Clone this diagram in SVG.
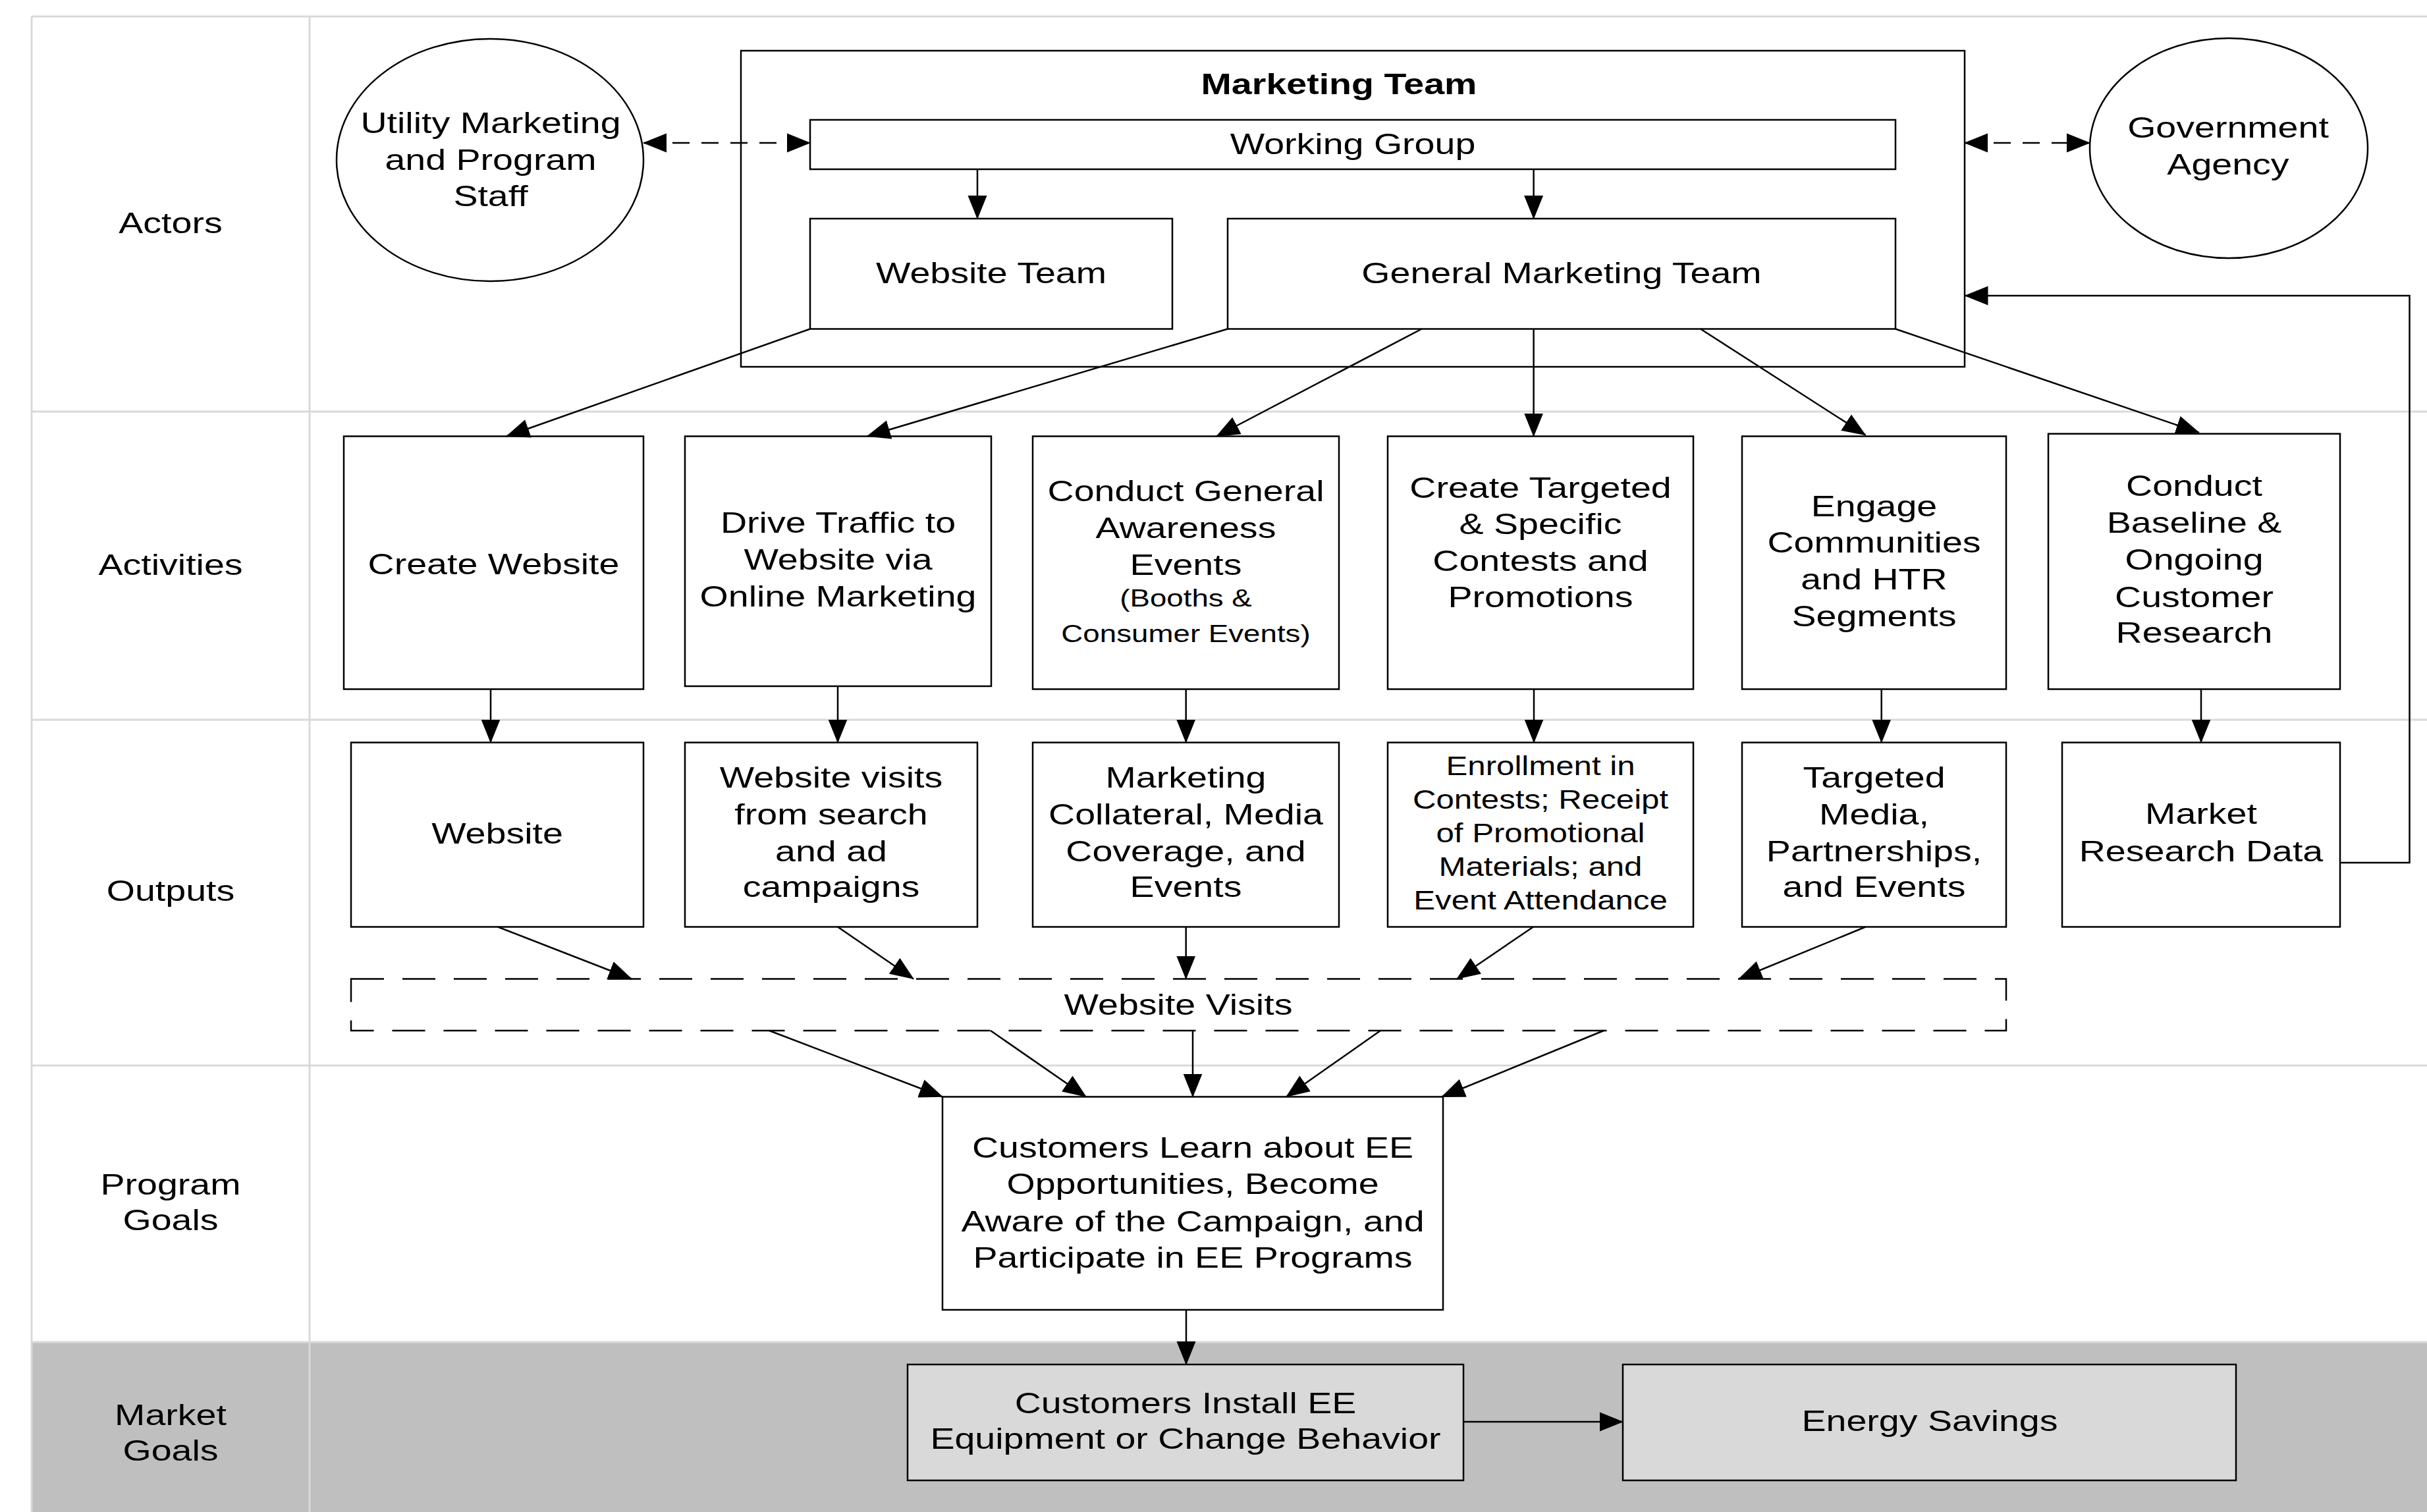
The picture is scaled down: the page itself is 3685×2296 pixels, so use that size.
<svg xmlns="http://www.w3.org/2000/svg" width="3685" height="2296" viewBox="0 0 3685 2296">
<style>
.grid{stroke:#d9d9d9;stroke-width:3;fill:none}
.box{fill:#fff;stroke:#000;stroke-width:2.5}
.gbox{fill:#d9d9d9;stroke:#000;stroke-width:2.5}
.c{stroke:#000;stroke-width:2.5;fill:none;marker-end:url(#ah)}
.dd{stroke:#000;stroke-width:2.5;fill:none;stroke-dasharray:26 18;marker-start:url(#ah);marker-end:url(#ah)}
.dbox{fill:none;stroke:#000;stroke-width:2.5;stroke-dasharray:50 28}
text{font-family:"Liberation Sans",Arial,Helvetica,sans-serif;font-size:45px;fill:#000;text-anchor:middle}
.b{font-weight:bold}
.s{font-size:37px}
.m{font-size:41px}
</style>
<defs>
<marker id="ah" markerUnits="userSpaceOnUse" markerWidth="36" markerHeight="30" refX="35" refY="14.5" orient="auto-start-reverse" viewBox="0 0 36 29">
<path d="M0,0 L36,14.5 L0,29 z" fill="#000"/>
</marker>
</defs>
<rect width="3685" height="2296" fill="#fff"/>
<g id="lanes">
<rect x="48" y="2038" width="3637" height="258" fill="#bfbfbf"/>
<path class="grid" d="M48,25 H3685 M48,625 H3685 M48,1093 H3685 M48,1618 H3685 M48,2038 H3685 M48,25 V2296 M470,25 V2296"/>
<text transform="translate(259 0) scale(1.235 1)"><tspan x="0" y="354">Actors</tspan></text>
<text transform="translate(259 0) scale(1.235 1)"><tspan x="0" y="873">Activities</tspan></text>
<text transform="translate(259 0) scale(1.235 1)"><tspan x="0" y="1368">Outputs</tspan></text>
<text transform="translate(259 0) scale(1.235 1)"><tspan x="0" y="1814">Program</tspan><tspan x="0" y="1868">Goals</tspan></text>
<text transform="translate(259 0) scale(1.235 1)"><tspan x="0" y="2164">Market</tspan><tspan x="0" y="2218">Goals</tspan></text>
</g>
<g id="marketing-team">
<rect class="box" x="1125" y="77" width="1858" height="480"/>
<text class="b" transform="translate(2033 0) scale(1.235 1)"><tspan x="0" y="143">Marketing Team</tspan></text>
</g>
<g id="utility-staff">
<ellipse class="box" cx="744" cy="243" rx="233" ry="184"/>
<text transform="translate(745 0) scale(1.235 1)"><tspan x="0" y="202">Utility Marketing</tspan><tspan x="0" y="258">and Program</tspan><tspan x="0" y="313">Staff</tspan></text>
</g>
<g id="government-agency">
<ellipse class="box" cx="3384" cy="225" rx="211" ry="167"/>
<text transform="translate(3383 0) scale(1.235 1)"><tspan x="0" y="209">Government</tspan><tspan x="0" y="265">Agency</tspan></text>
</g>
<g id="working-group">
<rect class="box" x="1230" y="182" width="1648" height="75"/>
<text transform="translate(2054 0) scale(1.235 1)"><tspan x="0" y="234">Working Group</tspan></text>
</g>
<g id="website-team">
<rect class="box" x="1230" y="332" width="550" height="167.5"/>
<text transform="translate(1505 0) scale(1.235 1)"><tspan x="0" y="430">Website Team</tspan></text>
</g>
<g id="general-marketing-team">
<rect class="box" x="1864" y="332" width="1014" height="167.5"/>
<text transform="translate(2371 0) scale(1.235 1)"><tspan x="0" y="430">General Marketing Team</tspan></text>
</g>
<g id="create-website">
<rect class="box" x="522" y="662.5" width="455" height="384"/>
<text transform="translate(749.5 0) scale(1.235 1)"><tspan x="0" y="872">Create Website</tspan></text>
</g>
<g id="drive-traffic">
<rect class="box" x="1040" y="662.5" width="465" height="379.5"/>
<text transform="translate(1272.5 0) scale(1.235 1)"><tspan x="0" y="809">Drive Traffic to</tspan><tspan x="0" y="865">Website via</tspan><tspan x="0" y="921">Online Marketing</tspan></text>
</g>
<g id="conduct-general">
<rect class="box" x="1568" y="662.5" width="465" height="384"/>
<text transform="translate(1800.5 0) scale(1.235 1)"><tspan x="0" y="761">Conduct General</tspan><tspan x="0" y="817">Awareness</tspan><tspan x="0" y="873">Events</tspan><tspan class="s" x="0" y="921">(Booths &amp;</tspan><tspan class="s" x="0" y="975">Consumer Events)</tspan></text>
</g>
<g id="create-targeted">
<rect class="box" x="2107" y="662.5" width="464" height="384"/>
<text transform="translate(2339 0) scale(1.235 1)"><tspan x="0" y="756">Create Targeted</tspan><tspan x="0" y="811">&amp; Specific</tspan><tspan x="0" y="867">Contests and</tspan><tspan x="0" y="922">Promotions</tspan></text>
</g>
<g id="engage-communities">
<rect class="box" x="2645" y="662.5" width="401" height="384"/>
<text transform="translate(2845.5 0) scale(1.235 1)"><tspan x="0" y="784">Engage</tspan><tspan x="0" y="839">Communities</tspan><tspan x="0" y="895">and HTR</tspan><tspan x="0" y="951">Segments</tspan></text>
</g>
<g id="customer-research">
<rect class="box" x="3110" y="658.7" width="443" height="387.8"/>
<text transform="translate(3331.5 0) scale(1.235 1)"><tspan x="0" y="753">Conduct</tspan><tspan x="0" y="809">Baseline &amp;</tspan><tspan x="0" y="865">Ongoing</tspan><tspan x="0" y="922">Customer</tspan><tspan x="0" y="976">Research</tspan></text>
</g>
<g id="website">
<rect class="box" x="533" y="1127.5" width="444" height="280"/>
<text transform="translate(755 0) scale(1.235 1)"><tspan x="0" y="1281">Website</tspan></text>
</g>
<g id="website-visits-search">
<rect class="box" x="1040" y="1127.5" width="444" height="280"/>
<text transform="translate(1262 0) scale(1.235 1)"><tspan x="0" y="1196">Website visits</tspan><tspan x="0" y="1252">from search</tspan><tspan x="0" y="1308">and ad</tspan><tspan x="0" y="1362">campaigns</tspan></text>
</g>
<g id="marketing-collateral">
<rect class="box" x="1568" y="1127.5" width="465" height="280"/>
<text transform="translate(1800.5 0) scale(1.235 1)"><tspan x="0" y="1196">Marketing</tspan><tspan x="0" y="1252">Collateral, Media</tspan><tspan x="0" y="1308">Coverage, and</tspan><tspan x="0" y="1362">Events</tspan></text>
</g>
<g id="enrollment">
<rect class="box" x="2107" y="1127.5" width="464" height="280"/>
<text class="m" transform="translate(2339 0) scale(1.2 1)"><tspan x="0" y="1177">Enrollment in</tspan><tspan x="0" y="1228">Contests; Receipt</tspan><tspan x="0" y="1279.5">of Promotional</tspan><tspan x="0" y="1330.5">Materials; and</tspan><tspan x="0" y="1381.5">Event Attendance</tspan></text>
</g>
<g id="targeted-media">
<rect class="box" x="2645" y="1127.5" width="401" height="280"/>
<text transform="translate(2845.5 0) scale(1.235 1)"><tspan x="0" y="1196">Targeted</tspan><tspan x="0" y="1252">Media,</tspan><tspan x="0" y="1308">Partnerships,</tspan><tspan x="0" y="1362">and Events</tspan></text>
</g>
<g id="market-research-data">
<rect class="box" x="3131" y="1127.5" width="422" height="280"/>
<text transform="translate(3342 0) scale(1.235 1)"><tspan x="0" y="1251">Market</tspan><tspan x="0" y="1308">Research Data</tspan></text>
</g>
<g id="website-visits">
<rect class="dbox" x="533" y="1486.5" width="2513" height="78.5"/>
<text transform="translate(1789 0) scale(1.235 1)"><tspan x="0" y="1541">Website Visits</tspan></text>
</g>
<g id="customers-learn">
<rect class="box" x="1431" y="1665.5" width="760" height="323.5"/>
<text transform="translate(1811 0) scale(1.235 1)"><tspan x="0" y="1758">Customers Learn about EE</tspan><tspan x="0" y="1813">Opportunities, Become</tspan><tspan x="0" y="1870">Aware of the Campaign, and</tspan><tspan x="0" y="1925">Participate in EE Programs</tspan></text>
</g>
<g id="customers-install">
<rect class="gbox" x="1378" y="2072" width="844" height="176"/>
<text transform="translate(1800 0) scale(1.235 1)"><tspan x="0" y="2146">Customers Install EE</tspan><tspan x="0" y="2200">Equipment or Change Behavior</tspan></text>
</g>
<g id="energy-savings">
<rect class="gbox" x="2464" y="2072" width="931" height="176"/>
<text transform="translate(2930 0) scale(1.235 1)"><tspan x="0" y="2173">Energy Savings</tspan></text>
</g>
<g id="connectors">
<path class="dd" d="M977,217 H1230"/>
<path class="dd" d="M2983,217 H3173"/>
<path class="c" d="M1484,257 V332"/>
<path class="c" d="M2328.6,257 V332"/>
<path class="c" d="M1230,499.5 L769,662.5"/>
<path class="c" d="M1864,499.5 L1316.6,662.5"/>
<path class="c" d="M2158.6,499.5 L1847,662.5"/>
<path class="c" d="M2328.6,499.5 V662.5"/>
<path class="c" d="M2582,499.5 L2832.5,660.6"/>
<path class="c" d="M2878,499.5 L3339,657"/>
<path class="c" d="M745,1046.5 V1127.5"/>
<path class="c" d="M1272,1042 V1127.5"/>
<path class="c" d="M1800.7,1046.5 V1127.5"/>
<path class="c" d="M2329,1046.5 V1127.5"/>
<path class="c" d="M2856.7,1046.5 V1127.5"/>
<path class="c" d="M3342,1046.5 V1127.5"/>
<path class="c" d="M3553,1310 H3658.5 V449 H2983.5"/>
<path class="c" d="M756,1407.5 L959,1486.5"/>
<path class="c" d="M1272,1407.5 L1387,1486.5"/>
<path class="c" d="M1800.7,1407.5 V1486.5"/>
<path class="c" d="M2328,1407.5 L2212,1486.5"/>
<path class="c" d="M2832.5,1407.5 L2640,1486.5"/>
<path class="c" d="M1168,1565 L1431,1665.5"/>
<path class="c" d="M1504,1565 L1649,1665.5"/>
<path class="c" d="M1811,1565 V1665.5"/>
<path class="c" d="M2096,1565 L1953,1665.5"/>
<path class="c" d="M2435,1565 L2189,1665.5"/>
<path class="c" d="M1801,1989 V2072"/>
<path class="c" d="M2222,2159 H2464"/>
</g>
</svg>
